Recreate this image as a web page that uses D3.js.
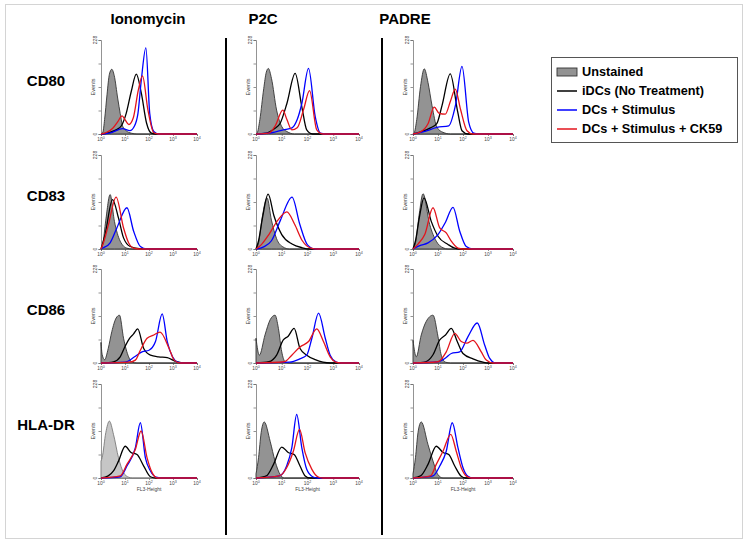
<!DOCTYPE html>
<html><head><meta charset="utf-8">
<script src="https://cdn.jsdelivr.net/npm/d3@7"></script>
<style>body{margin:0;background:#fff;} svg{display:block;font-family:"Liberation Sans",Arial,sans-serif;}</style>
</head><body><svg id="c" width="748" height="547"></svg>
<script>
const conditions = ["Ionomycin","P2C","PADRE"];
const markers = ["CD80","CD83","CD86","HLA-DR"];
const seriesNames = ["Unstained","iDCs (No Treatment)","DCs + Stimulus","DCs + Stimulus + CK59"];
const xTickExp = [0,1,2,3,4];
const yTickVals = [0,57,114,171,228];
const yMax = 228;

// each curve: [log10(FL3-Height), Events]; order per array: Ionomycin, P2C, PADRE
const CD80_unstained = [
 [[0,0],[0.08,5],[0.15,35],[0.25,95],[0.35,145],[0.45,157],[0.55,142],[0.7,85],[0.8,50],[0.91,18],[1.05,8],[1.26,2],[1.5,0],[4,0]],
 [[0,0],[0.05,3],[0.15,35],[0.3,110],[0.4,150],[0.48,159],[0.6,135],[0.8,58],[1.0,18],[1.2,6],[1.5,0],[4,0]],
 [[0,0],[0.05,3],[0.15,35],[0.3,115],[0.45,158],[0.6,125],[0.76,69],[0.96,16],[1.2,4],[1.5,0],[4,0]]];
const CD80_idc = [
 [[0,0],[0.3,3],[0.63,10],[0.85,20],[1.05,50],[1.26,103],[1.47,145],[1.68,99],[1.9,26],[2.1,2],[2.3,0],[4,0]],
 [[0,0],[0.4,2],[0.7,12],[0.94,26],[1.2,74],[1.52,147],[1.78,66],[1.97,10],[2.2,0],[4,0]],
 [[0,0],[0.3,5],[0.7,15],[0.95,25],[1.16,69],[1.49,146],[1.79,53],[1.96,8],[2.2,0],[4,0]]];
const CD80_stim = [
 [[0,0],[0.4,3],[0.9,13],[1.2,8],[1.4,20],[1.54,50],[1.68,131],[1.87,209],[2.03,50],[2.2,6],[2.4,0],[4,0]],
 [[0,0],[0.6,3],[1.06,10],[1.4,15],[1.6,35],[1.78,74],[2.04,159],[2.3,42],[2.5,2],[2.7,0],[4,0]],
 [[0,0],[0.4,5],[0.96,16],[1.43,20],[1.7,70],[1.96,164],[2.23,28],[2.43,2],[2.6,0],[4,0]]];
const CD80_ck59 = [
 [[0,0],[0.2,3],[0.49,14],[0.7,30],[0.88,44],[1.0,35],[1.16,23],[1.35,40],[1.55,105],[1.73,141],[1.95,60],[2.2,3],[2.4,0],[4,0]],
 [[0,0],[0.5,2],[0.75,20],[1.04,58],[1.2,35],[1.39,10],[1.6,15],[1.85,60],[2.08,105],[2.36,10],[2.6,0],[4,0]],
 [[0,0],[0.3,5],[0.6,25],[0.85,65],[1.05,50],[1.29,48],[1.5,80],[1.69,109],[1.9,60],[2.16,8],[2.4,0],[4,0]]];

const CD83_unstained = [
 [[0,0],[0.07,10],[0.2,70],[0.38,132],[0.56,67],[0.8,19],[1.08,2],[1.3,0],[4,0]],
 [[0,0],[0.1,15],[0.25,80],[0.43,124],[0.6,70],[0.8,25],[1.05,5],[1.3,0],[4,0]],
 [[0,0],[0.1,15],[0.25,85],[0.4,134],[0.67,59],[0.93,19],[1.2,3],[1.4,0],[4,0]]];
const CD83_idc = [
 [[0,0],[0.05,10],[0.17,35],[0.48,120],[0.73,75],[0.94,27],[1.22,6],[1.6,1],[1.9,0],[4,0]],
 [[0,0],[0.1,20],[0.25,75],[0.47,133],[0.7,80],[1.0,35],[1.4,12],[1.8,3],[2.1,0],[4,0]],
 [[0,0],[0.1,20],[0.25,75],[0.44,124],[0.73,67],[1.0,31],[1.4,11],[1.67,2],[1.9,0],[4,0]]];
const CD83_stim = [
 [[0,0],[0.1,3],[0.38,15],[0.66,51],[1.08,100],[1.36,43],[1.64,6],[1.9,0],[4,0]],
 [[0,0],[0.3,5],[0.6,20],[0.95,70],[1.4,126],[1.7,60],[2.0,10],[2.3,0],[4,0]],
 [[0,0],[0.27,8],[0.6,15],[1.0,35],[1.3,65],[1.6,101],[1.87,43],[2.13,6],[2.4,0],[4,0]]];
const CD83_ck59 = [
 [[0,0],[0.1,15],[0.31,59],[0.63,126],[0.94,51],[1.15,15],[1.36,2],[1.6,0],[4,0]],
 [[0,0],[0.2,10],[0.5,35],[0.85,70],[1.2,90],[1.5,60],[1.8,20],[2.1,3],[2.4,0],[4,0]],
 [[0,0],[0.2,12],[0.47,35],[0.8,100],[1.07,51],[1.33,39],[1.53,19],[1.8,2],[2.0,0],[4,0]]];

const CD86_unstained = [
 [[0,50],[0.05,20],[0.15,8],[0.3,35],[0.45,76],[0.63,109],[0.77,116],[0.94,60],[1.15,15],[1.3,2],[1.5,0],[4,0]],
 [[0,60],[0.13,19],[0.35,68],[0.55,105],[0.74,116],[0.87,84],[1.0,27],[1.13,3],[1.3,0],[4,0]],
 [[0,55],[0.13,15],[0.33,68],[0.53,101],[0.8,116],[1.0,64],[1.13,19],[1.3,2],[1.5,0],[4,0]]];
const CD86_idc = [
 [[0,0],[0.52,3],[0.8,15],[1.0,40],[1.19,60],[1.35,70],[1.53,83],[1.78,35],[2.06,19],[2.4,15],[2.76,13],[3.1,4],[3.4,0],[4,0]],
 [[0,0],[0.5,3],[0.8,19],[1.06,56],[1.25,65],[1.48,84],[1.71,35],[1.97,19],[2.3,8],[2.6,2],[2.9,0],[4,0]],
 [[0,0],[0.5,3],[0.8,20],[1.07,56],[1.3,68],[1.53,84],[1.77,52],[2.0,23],[2.4,10],[2.8,2],[3.0,0],[4,0]]];
const CD86_stim = [
 [[0,0],[1.0,2],[1.4,15],[1.71,27],[2.0,31],[2.27,52],[2.55,119],[2.76,52],[2.98,15],[3.19,2],[3.4,0],[4,0]],
 [[0,0],[1.3,2],[1.7,10],[1.97,19],[2.17,60],[2.43,121],[2.69,60],[2.88,19],[3.1,3],[3.3,0],[4,0]],
 [[0,0],[1.0,3],[1.3,12],[1.53,23],[1.87,27],[2.2,64],[2.57,97],[2.87,43],[3.07,11],[3.3,0],[4,0]]];
const CD86_ck59 = [
 [[0,0],[1.2,2],[1.43,7],[1.64,31],[1.92,60],[2.2,68],[2.46,75],[2.84,35],[3.05,7],[3.3,0],[4,0]],
 [[0,0],[1.1,3],[1.39,19],[1.71,39],[2.04,52],[2.36,83],[2.62,52],[2.88,15],[3.1,2],[3.3,0],[4,0]],
 [[0,0],[1.0,3],[1.33,27],[1.67,72],[1.93,52],[2.15,48],[2.4,55],[2.73,27],[2.93,7],[3.2,0],[4,0]]];

const HLADR_unstained = [
 [[0,41],[0.05,50],[0.2,110],[0.35,138],[0.52,106],[0.73,49],[0.94,13],[1.15,2],[1.3,0],[4,0]],
 [[0,10],[0.1,50],[0.2,110],[0.32,136],[0.55,89],[0.74,41],[0.94,8],[1.1,0],[4,0]],
 [[0,10],[0.1,50],[0.2,110],[0.33,136],[0.6,81],[0.8,41],[1.0,8],[1.2,0],[4,0]]];
const HLADR_idc = [
 [[0,0],[0.3,5],[0.52,17],[0.73,41],[1.01,77],[1.25,62],[1.5,57],[1.78,29],[2.06,3],[2.3,0],[4,0]],
 [[0,0],[0.4,5],[0.68,33],[1.0,75],[1.25,62],[1.48,57],[1.71,29],[1.91,5],[2.1,0],[4,0]],
 [[0,0],[0.3,5],[0.6,33],[0.93,77],[1.2,62],[1.43,57],[1.67,29],[1.93,4],[2.1,0],[4,0]]];
const HLADR_stim = [
 [[0,0],[0.8,3],[1.08,29],[1.43,73],[1.64,134],[1.85,49],[2.06,17],[2.3,2],[2.5,0],[4,0]],
 [[0,0],[0.9,5],[1.19,29],[1.39,73],[1.58,154],[1.78,73],[1.97,21],[2.2,3],[2.4,0],[4,0]],
 [[0,0],[0.8,5],[1.07,29],[1.33,65],[1.57,134],[1.8,73],[2.0,25],[2.2,4],[2.4,0],[4,0]]];
const HLADR_ck59 = [
 [[0,0],[0.8,5],[1.08,33],[1.43,69],[1.67,114],[1.92,49],[2.13,13],[2.35,0],[4,0]],
 [[0,0],[0.9,5],[1.19,25],[1.45,65],[1.69,118],[1.91,61],[2.17,21],[2.4,3],[2.6,0],[4,0]],
 [[0,0],[0.7,5],[0.93,33],[1.2,65],[1.51,106],[1.73,65],[1.93,25],[2.15,4],[2.35,0],[4,0]]];

const rowsData = [
 [CD80_unstained, CD80_idc, CD80_stim, CD80_ck59],
 [CD83_unstained, CD83_idc, CD83_stim, CD83_ck59],
 [CD86_unstained, CD86_idc, CD86_stim, CD86_ck59],
 [HLADR_unstained, HLADR_idc, HLADR_stim, HLADR_ck59]];

// ---- layout ----
const svg = d3.select("#c");
const colLeft = [101, 256, 413];
const colWidth = [96, 103, 100];
const rowTop = [40, 155, 269, 384];
const panelH = 94;
const lineColors = ["#000000", "#0000ff", "#e3141c"];
const axisColor = "#666";

svg.append("rect").attr("x",5.5).attr("y",4.5).attr("width",737).attr("height",534)
  .attr("fill","none").attr("stroke","#d4d4d4").attr("stroke-width",1);

// column titles
const titleX = [148, 263, 405];
conditions.forEach((c,i)=>{
  svg.append("text").attr("x",titleX[i]).attr("y",24).attr("text-anchor","middle")
    .attr("font-size",15).attr("font-weight","bold").attr("fill","#000").text(c);
});
// row labels
markers.forEach((m,j)=>{
  svg.append("text").attr("x",46).attr("y",rowTop[j]+46).attr("text-anchor","middle")
    .attr("font-size",15).attr("font-weight","bold").attr("fill","#000").text(m);
});
// dividers
[226, 382].forEach(x=>{
  svg.append("line").attr("x1",x).attr("x2",x).attr("y1",38).attr("y2",535)
    .attr("stroke","#000").attr("stroke-width",2);
});

rowsData.forEach((series,j)=>{
  conditions.forEach((cond,i)=>{
    const x = d3.scaleLinear().domain([0,4]).range([colLeft[i], colLeft[i]+colWidth[i]]);
    const y = d3.scaleLinear().domain([0,yMax]).range([rowTop[j]+panelH, rowTop[j]]);
    const g = svg.append("g");
    const yAxis = d3.axisLeft(y).tickValues(yTickVals).tickSize(2.5).tickFormat("");
    const ga = g.append("g").attr("transform",`translate(${colLeft[i]},0)`).call(yAxis);
    ga.selectAll("path,line").attr("stroke",axisColor).attr("stroke-width",0.7);
    const xAxis = d3.axisBottom(x).tickValues(xTickExp).tickSize(2).tickFormat("");
    const gx = g.append("g").attr("transform",`translate(0,${rowTop[j]+panelH})`).call(xAxis);
    gx.selectAll("path,line").attr("stroke",axisColor).attr("stroke-width",0.7);
    [[228, rowTop[j]], [0, rowTop[j]+panelH]].forEach(([v,py])=>{
      g.append("text").attr("transform",`translate(${colLeft[i]-4},${py}) rotate(-90)`)
        .attr("text-anchor","middle").attr("font-size",5).attr("fill","#444").text(v);
    });
    g.append("text").attr("transform",`translate(${colLeft[i]-6},${rowTop[j]+panelH/2}) rotate(-90)`)
      .attr("text-anchor","middle").attr("font-size",5.5).attr("fill","#444").text("Events");
    xTickExp.forEach(e=>{
      const t = g.append("text").attr("x",x(e)).attr("y",rowTop[j]+panelH+7)
        .attr("text-anchor","middle").attr("font-size",4.8).attr("fill","#444");
      t.append("tspan").text("10");
      t.append("tspan").attr("dy",-1.8).attr("font-size",3.6).text(e);
    });
    if (j===3) {
      g.append("text").attr("x",x(2)).attr("y",rowTop[j]+panelH+13).attr("text-anchor","middle")
        .attr("font-size",5).attr("fill","#444").text("FL3-Height");
    }
    const light = (j===3 && i===0);
    const area = d3.area().x(d=>x(d[0])).y0(y(0)).y1(d=>y(d[1])).curve(d3.curveMonotoneX);
    const line = d3.line().x(d=>x(d[0])).y(d=>y(d[1])).curve(d3.curveMonotoneX);
    g.append("path").datum(series[0][i]).attr("d",area)
      .attr("fill", light ? "#c6c6c6" : "#939393")
      .attr("stroke", light ? "#7a7a7a" : "#333").attr("stroke-width",0.9);
    [1,2,3].forEach(k=>{
      g.append("path").datum(series[k][i]).attr("d",line)
        .attr("fill","none").attr("stroke",lineColors[k-1]).attr("stroke-width",1.3);
    });
  });
});

// legend
const lg = svg.append("g");
lg.append("rect").attr("x",551.5).attr("y",57.5).attr("width",186).attr("height",85)
  .attr("fill","#fff").attr("stroke","#555").attr("stroke-width",1);
const legY = [72, 91, 110, 129];
seriesNames.forEach((s,k)=>{
  if (k===0) {
    lg.append("rect").attr("x",557).attr("y",legY[k]-4).attr("width",20).attr("height",8)
      .attr("fill","#939393").attr("stroke","#333").attr("stroke-width",0.9);
  } else {
    lg.append("line").attr("x1",557).attr("x2",577).attr("y1",legY[k]).attr("y2",legY[k])
      .attr("stroke",lineColors[k-1]).attr("stroke-width",1.5);
  }
  lg.append("text").attr("x",582).attr("y",legY[k]+4.4).attr("font-size",12.7)
    .attr("font-weight","bold").attr("fill","#000").text(s);
});
</script></body></html>
